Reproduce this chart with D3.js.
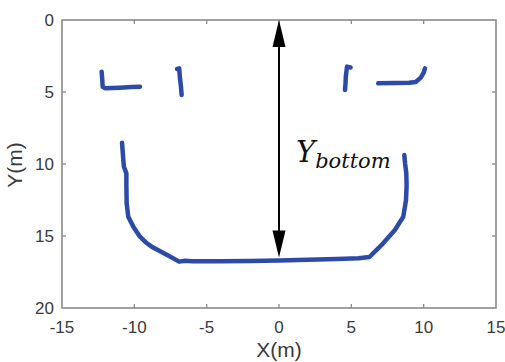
<!DOCTYPE html>
<html lang="en">
<head>
<meta charset="UTF-8">
<title>Y bottom scan</title>
<script src="https://d3js.org/d3.v7.min.js"></script>
<style>
  body { margin: 0; background: #fff; font-family: 'Liberation Sans', Arial, sans-serif; }
  svg { display: block; }
</style>
</head>
<body>
<div id="chart"></div>
<script>
// axis ticks
const xTicks = [-15, -10, -5, 0, 5, 10, 15];
const yTicks = [0, 5, 10, 15, 20];

// scanned segments (x, y in metres)
const leftL = [[-12.26, 3.59], [-12.22, 4.1], [-12.19, 4.63], [-12.03, 4.74], [-11.0, 4.7], [-10.2, 4.66], [-9.61, 4.63]];
const leftBar = [[-7.05, 3.4], [-6.9, 3.36], [-6.85, 4.0], [-6.78, 4.6], [-6.73, 5.21]];
const rightBar = [[4.95, 3.3], [4.7, 3.24], [4.62, 3.9], [4.6, 4.4], [4.56, 4.86]];
const rightL = [[6.86, 4.4], [8.0, 4.38], [9.0, 4.36], [9.45, 4.3], [9.8, 4.0], [10.0, 3.65], [10.09, 3.36]];
const bigU = [
  [-10.85, 8.52], [-10.8, 9.2], [-10.76, 9.72], [-10.72, 10.19], [-10.55, 10.65],
  [-10.55, 11.5], [-10.53, 12.73], [-10.42, 13.66], [-10.07, 14.35], [-9.61, 15.05],
  [-9.2, 15.45], [-8.8, 15.74], [-7.76, 16.3], [-6.9, 16.78], [-6.5, 16.72],
  [-6.0, 16.76], [-4.0, 16.76], [-2.0, 16.74], [0, 16.7], [2.0, 16.65], [4.0, 16.6],
  [5.5, 16.55], [6.25, 16.46], [7.2, 15.51], [8.01, 14.58], [8.59, 13.66],
  [8.78, 12.5], [8.82, 11.5], [8.8, 10.65], [8.72, 10.0], [8.66, 9.38]
];
const segments = [leftL, leftBar, rightBar, rightL, bigU];

const arrowX = 0, arrowTop = 0, arrowBottom = 16.5;

const width = 505, height = 362;
const plot = { left: 62, right: 496, top: 20, bottom: 308 };

const svg = d3.select("#chart").append("svg")
  .attr("width", width)
  .attr("height", height);

const x = d3.scaleLinear().domain([-15, 15]).range([plot.left, plot.right]);
const y = d3.scaleLinear().domain([0, 20]).range([plot.top, plot.bottom]);

const axisColor = "#8a8a8a";
const labelColor = "#3a3a3a";

// box
svg.append("rect")
  .attr("x", plot.left).attr("y", plot.top)
  .attr("width", plot.right - plot.left).attr("height", plot.bottom - plot.top)
  .attr("fill", "none").attr("stroke", axisColor).attr("stroke-width", 1.6);

// inward ticks on all four sides
const tickLen = 4;
const gTicks = svg.append("g").attr("stroke", axisColor).attr("stroke-width", 1.3);
xTicks.slice(1, -1).forEach(t => {
  gTicks.append("line").attr("x1", x(t)).attr("x2", x(t)).attr("y1", plot.bottom).attr("y2", plot.bottom - tickLen);
  gTicks.append("line").attr("x1", x(t)).attr("x2", x(t)).attr("y1", plot.top).attr("y2", plot.top + tickLen);
});
yTicks.slice(1, -1).forEach(t => {
  gTicks.append("line").attr("x1", plot.left).attr("x2", plot.left + tickLen).attr("y1", y(t)).attr("y2", y(t));
  gTicks.append("line").attr("x1", plot.right).attr("x2", plot.right - tickLen).attr("y1", y(t)).attr("y2", y(t));
});

// tick labels
svg.append("g").selectAll("text").data(xTicks).join("text")
  .attr("x", d => x(d))
  .attr("y", plot.bottom + 25)
  .attr("text-anchor", "middle")
  .attr("font-size", 17)
  .attr("fill", labelColor)
  .text(d => d);

svg.append("g").selectAll("text").data(yTicks).join("text")
  .attr("x", plot.left - 8)
  .attr("y", d => y(d) + 6)
  .attr("text-anchor", "end")
  .attr("font-size", 17)
  .attr("fill", labelColor)
  .text(d => d);

// axis titles
svg.append("text")
  .attr("x", x(0)).attr("y", 357)
  .attr("text-anchor", "middle")
  .attr("font-size", 21)
  .attr("fill", labelColor)
  .text("X(m)");

svg.append("text")
  .attr("transform", "translate(22,165) rotate(-90)")
  .attr("text-anchor", "middle")
  .attr("font-size", 21)
  .attr("fill", labelColor)
  .text("Y(m)");

// scan lines
const line = d3.line().x(d => x(d[0])).y(d => y(d[1])).curve(d3.curveLinear);
svg.append("g").selectAll("path").data(segments).join("path")
  .attr("d", line)
  .attr("fill", "none")
  .attr("stroke", "#2d4aa8")
  .attr("stroke-width", 4.5)
  .attr("stroke-linecap", "round")
  .attr("stroke-linejoin", "round");

// double arrow
const ax = x(arrowX), aTop = y(arrowTop), aBot = y(arrowBottom);
const headLen = 27, headHalf = 6.5;
svg.append("line")
  .attr("x1", ax).attr("x2", ax)
  .attr("y1", aTop + headLen - 2).attr("y2", aBot - headLen + 2)
  .attr("stroke", "#000").attr("stroke-width", 2);
svg.append("path")
  .attr("d", `M${ax},${aTop} L${ax - headHalf},${aTop + headLen} L${ax + headHalf},${aTop + headLen} Z`)
  .attr("fill", "#000");
svg.append("path")
  .attr("d", `M${ax},${aBot} L${ax - headHalf},${aBot - headLen} L${ax + headHalf},${aBot - headLen} Z`)
  .attr("fill", "#000");

// Y_bottom label
const lbl = svg.append("text")
  .attr("x", 296).attr("y", 162)
  .attr("font-family", "'DejaVu Serif', serif")
  .attr("font-style", "italic")
  .attr("fill", "#111");
lbl.append("tspan").attr("font-size", 29).text("Y");
lbl.append("tspan").attr("font-size", 21).attr("dy", 6).text("bottom");
</script>
</body>
</html>
